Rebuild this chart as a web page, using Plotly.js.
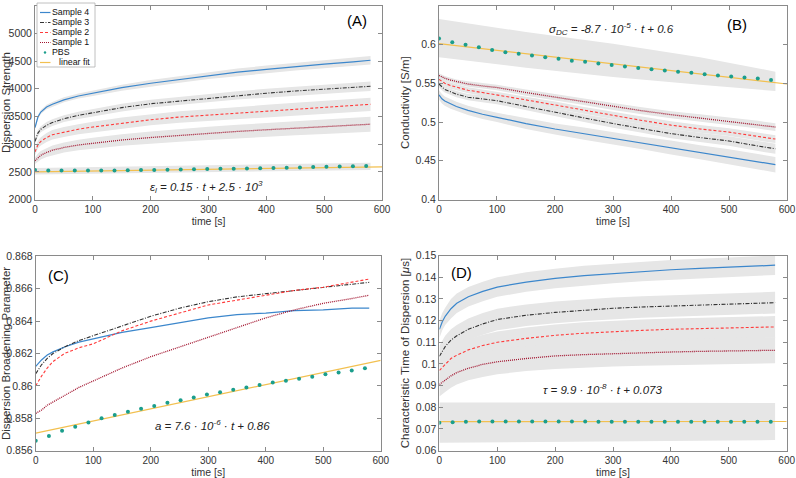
<!DOCTYPE html>
<html>
<head>
<meta charset="utf-8">
<script src="https://cdn.plot.ly/plotly-3.0.1.min.js"></script>
<style>html,body{margin:0;padding:0;background:#fff;}#chart{width:796px;height:478px;}</style>
</head>
<body>
<div id="chart"></div>
<script>
// ---------- data ----------
const t = [0,5,10,20,30,50,75,100,150,200,250,300,350,400,450,500,550,580];
const tPBS = [0,22.9,45.8,68.7,91.6,114.5,137.4,160.3,183.2,206.1,229,251.9,274.8,297.7,320.6,343.5,366.4,389.3,412.2,435.1,458,480.9,503.8,526.7,549.6,572.5];
const tFit = [0, 600];
const tBandPBS = [0,150,300,450,580];

// (A) Dispersion Strength
const A_s4 = [3300,3490,3580,3670,3720,3800,3870,3920,4020,4100,4170,4240,4300,4350,4400,4445,4485,4515];
const A_s3 = [3050,3200,3270,3340,3390,3460,3520,3570,3660,3730,3780,3830,3880,3920,3960,3990,4025,4045];
const A_s2 = [2860,2990,3050,3120,3170,3220,3270,3310,3380,3440,3490,3525,3565,3600,3635,3665,3700,3720];
const A_s1 = [2700,2760,2800,2850,2890,2940,2985,3015,3075,3120,3160,3195,3230,3260,3290,3315,3340,3360];
const A_hw4 = [30,35,35,40,40,45,45,50,55,60,60,65,65,70,70,75,75,75];
const A_hw3 = [50,55,55,60,60,60,65,65,70,70,75,75,75,80,80,80,85,85];
const A_hw2 = [60,70,75,80,85,90,90,95,100,100,105,105,110,110,115,115,120,120];
const A_hw1 = [60,70,75,80,85,90,95,100,105,110,115,120,120,125,130,130,135,135];
const A_pbs = [2532,2522,2522,2522,2524,2524,2526,2530,2532,2534,2538,2542,2546,2550,2554,2558,2562,2566,2570,2576,2580,2586,2590,2596,2600,2606];
const A_fit = [2500, 2590];
const A_pbsLo = [2450,2475,2495,2515,2535];
const A_pbsHi = [2570,2595,2620,2645,2665];

// (B) Conductivity
const B_s4 = [0.535,0.530,0.527,0.523,0.520,0.515,0.510,0.506,0.498,0.491,0.485,0.479,0.473,0.467,0.461,0.455,0.449,0.445];
const B_s3 = [0.549,0.545,0.542,0.539,0.536,0.532,0.530,0.5275,0.520,0.5125,0.505,0.498,0.4915,0.485,0.480,0.4755,0.469,0.4655];
const B_s2 = [0.555,0.552,0.550,0.547,0.545,0.541,0.538,0.535,0.5285,0.522,0.515,0.5085,0.502,0.496,0.491,0.487,0.481,0.478];
const B_s1 = [0.560,0.558,0.5565,0.554,0.552,0.549,0.5465,0.5445,0.538,0.532,0.526,0.520,0.5145,0.5095,0.505,0.501,0.4965,0.4935];
const B_hw4 = [0.006,0.006,0.006,0.006,0.006,0.006,0.006,0.006,0.007,0.007,0.008,0.008,0.008,0.009,0.009,0.010,0.010,0.010];
const B_hw3 = [0.004,0.004,0.004,0.004,0.004,0.004,0.0045,0.0045,0.005,0.005,0.005,0.0055,0.0055,0.006,0.006,0.006,0.0065,0.0065];
const B_hw2 = [0.004,0.004,0.004,0.004,0.004,0.004,0.004,0.004,0.0045,0.0045,0.0045,0.0045,0.005,0.005,0.005,0.005,0.005,0.005];
const B_hw1 = [0.003,0.003,0.003,0.003,0.003,0.0035,0.0035,0.0035,0.004,0.004,0.004,0.0045,0.0045,0.0045,0.005,0.005,0.005,0.005];
const B_pbs = [0.6078,0.603,0.5996,0.5966,0.593,0.590,0.588,0.5858,0.5836,0.5815,0.579,0.5776,0.5754,0.5737,0.5716,0.5698,0.568,0.5664,0.5647,0.5634,0.5616,0.560,0.5586,0.5573,0.556,0.5543];
const B_fit = [0.601, 0.549];
const B_pbsLo = [0.5835,0.570,0.558,0.548,0.540];
const B_pbsHi = [0.633,0.616,0.601,0.5835,0.565];

// (C) Dispersion Broadening Parameter
const C_s4 = [0.8612,0.8614,0.8616,0.8619,0.8621,0.8624,0.8627,0.8629,0.8633,0.8636,0.8639,0.8642,0.8644,0.8645,0.86465,0.8647,0.8648,0.8648];
const C_s3 = [0.86075,0.8610,0.8613,0.8617,0.8620,0.8624,0.8628,0.8631,0.8637,0.8643,0.8648,0.8652,0.8655,0.8657,0.8659,0.8661,0.8663,0.8664];
const C_s2 = [0.8600,0.8603,0.8606,0.8611,0.8615,0.8620,0.86235,0.8626,0.8634,0.8640,0.8645,0.8650,0.8653,0.8656,0.8659,0.8661,0.8664,0.8666];
const C_s1 = [0.8583,0.8584,0.8585,0.8588,0.8590,0.8594,0.8599,0.8603,0.8611,0.8618,0.8624,0.8630,0.8636,0.8642,0.8647,0.8651,0.8654,0.8656];
const C_pbs = [0.85661,0.8569,0.85723,0.85747,0.85774,0.85799,0.85819,0.8584,0.85858,0.85876,0.85895,0.85911,0.85928,0.85946,0.8596,0.85975,0.85989,0.86005,0.8602,0.86032,0.86044,0.86056,0.86071,0.86083,0.86095,0.86108];
const C_fit = [0.85708, 0.86157];

// (D) Characteristic Time of Dispersion
const D_s4 = [0.116,0.1195,0.122,0.1255,0.128,0.131,0.1335,0.1355,0.1378,0.1395,0.1408,0.1418,0.1427,0.1435,0.1441,0.1447,0.1452,0.1456];
const D_s3 = [0.1035,0.106,0.108,0.111,0.113,0.116,0.1185,0.1205,0.1225,0.1238,0.1248,0.1257,0.1263,0.1268,0.1273,0.1277,0.1281,0.1283];
const D_s2 = [0.097,0.0985,0.100,0.1025,0.104,0.1065,0.1085,0.110,0.1118,0.1132,0.1142,0.115,0.1155,0.116,0.1163,0.1166,0.1169,0.1171];
const D_s1 = [0.0905,0.0915,0.0925,0.0945,0.096,0.098,0.0998,0.101,0.1025,0.1037,0.1043,0.1048,0.1052,0.1055,0.1058,0.106,0.1062,0.1063];
const D_hw4 = [0.004,0.004,0.004,0.0045,0.0045,0.0045,0.0045,0.0045,0.0045,0.0045,0.0045,0.0045,0.0045,0.0045,0.0045,0.0045,0.0045,0.0045];
const D_hw3 = [0.005,0.005,0.005,0.005,0.005,0.005,0.005,0.005,0.005,0.005,0.005,0.005,0.005,0.005,0.005,0.005,0.005,0.005];
const D_hw2 = [0.005,0.005,0.005,0.005,0.005,0.005,0.005,0.005,0.005,0.005,0.005,0.005,0.005,0.005,0.005,0.005,0.005,0.005];
const D_hw1 = [0.0055,0.0055,0.0055,0.0055,0.0055,0.0055,0.0058,0.0058,0.0058,0.006,0.006,0.006,0.006,0.006,0.006,0.006,0.006,0.006];
const D_pbs = [0.0728,0.0731,0.0733,0.0734,0.0734,0.0734,0.0734,0.0734,0.0734,0.0734,0.0734,0.0734,0.0733,0.0733,0.0733,0.0733,0.0733,0.0733,0.0733,0.0733,0.0733,0.0733,0.0733,0.0733,0.0733,0.0733];
const D_fit = [0.0733, 0.0734];
const D_pbsLo = [0.0636,0.0639,0.0642,0.0645,0.0648];
const D_pbsHi = [0.0822,0.0822,0.0821,0.0821,0.0820];

const legendNames = ['Sample 4','Sample 3','Sample 2','Sample 1','PBS','linear fit'];

// ---------- styles ----------
const BAND = '#e6e6e6';
const sty = {
  s4: {color:'#3c87cc', dash:'solid', width:1.2},
  s3: {color:'#333333', dash:'4px,1.5px,1px,1.5px', width:1.1},
  s2: {color:'#ff3b3b', dash:'3px,2px', width:1.1},
  s1: {color:'#a2142f', dash:'1px,1px', width:1.3},
  fit:{color:'#f2c050', dash:'solid', width:1.2}
};
const MK = '#1b9e8c';

const traces = [];
function band(x, lo, hi, ax) {
  traces.push({x: x.concat(x.slice().reverse()), y: hi.concat(lo.slice().reverse()),
    type:'scatter', mode:'lines', fill:'toself', fillcolor:BAND, line:{width:0},
    xaxis:'x'+ax, yaxis:'y'+ax, hoverinfo:'skip', showlegend:false});
}
function bandHW(x, y, hw, ax) {
  band(x, y.map((v,i)=>v-hw[i]), y.map((v,i)=>v+hw[i]), ax);
}
function line(x, y, s, ax) {
  traces.push({x:x, y:y, type:'scatter', mode:'lines', line:s, xaxis:'x'+ax, yaxis:'y'+ax, showlegend:false});
}
function marks(x, y, ax) {
  traces.push({x:x, y:y, type:'scatter', mode:'markers', marker:{color:MK, size:4}, xaxis:'x'+ax, yaxis:'y'+ax, showlegend:false});
}

// A
bandHW(t, A_s4, A_hw4, ''); bandHW(t, A_s3, A_hw3, ''); bandHW(t, A_s2, A_hw2, ''); bandHW(t, A_s1, A_hw1, '');
band(tBandPBS, A_pbsLo, A_pbsHi, '');
line(tFit, A_fit, sty.fit, '');
line(t, A_s4, sty.s4, ''); line(t, A_s3, sty.s3, ''); line(t, A_s2, sty.s2, ''); line(t, A_s1, sty.s1, '');
marks(tPBS, A_pbs, '');
// B
bandHW(t, B_s4, B_hw4, '2'); bandHW(t, B_s3, B_hw3, '2'); bandHW(t, B_s2, B_hw2, '2'); bandHW(t, B_s1, B_hw1, '2');
band(tBandPBS, B_pbsLo, B_pbsHi, '2');
line(tFit, B_fit, sty.fit, '2');
line(t, B_s4, sty.s4, '2'); line(t, B_s3, sty.s3, '2'); line(t, B_s2, sty.s2, '2'); line(t, B_s1, sty.s1, '2');
marks(tPBS, B_pbs, '2');
// C
line(tFit, C_fit, sty.fit, '3');
line(t, C_s4, sty.s4, '3'); line(t, C_s3, sty.s3, '3'); line(t, C_s2, sty.s2, '3'); line(t, C_s1, sty.s1, '3');
marks(tPBS, C_pbs, '3');
// D
bandHW(t, D_s4, D_hw4, '4'); bandHW(t, D_s3, D_hw3, '4'); bandHW(t, D_s2, D_hw2, '4'); bandHW(t, D_s1, D_hw1, '4');
band(tBandPBS, D_pbsLo, D_pbsHi, '4');
line(tFit, D_fit, sty.fit, '4');
line(t, D_s4, sty.s4, '4'); line(t, D_s3, sty.s3, '4'); line(t, D_s2, sty.s2, '4'); line(t, D_s1, sty.s1, '4');
marks(tPBS, D_pbs, '4');

// ---------- layout ----------
const FONT = '"Liberation Sans", Arial, Helvetica, sans-serif';
function xax(dom, anchor) {
  return {domain:dom, anchor:anchor, range:[0,600], tick0:0, dtick:100, ticks:'inside', ticklen:4,
    tickcolor:'#8a8a8a', showline:true, linecolor:'#8a8a8a', linewidth:1, mirror:'ticks',
    showgrid:false, zeroline:false, tickfont:{size:10, color:'#333'},
    title:{text:'time [s]', font:{size:10.5, color:'#333'}, standoff:2}};
}
function yax(dom, anchor, range, dtick, title) {
  return {domain:dom, anchor:anchor, range:range, tick0:range[0], dtick:dtick, ticks:'inside', ticklen:4,
    tickcolor:'#8a8a8a', showline:true, linecolor:'#8a8a8a', linewidth:1, mirror:'ticks',
    showgrid:false, zeroline:false, tickfont:{size:10.5, color:'#333'},
    title:{text:title, font:{size:11.5, color:'#333'}, standoff:3}};
}
const W = 796, H = 478;
const px = v => v / W, py = v => 1 - v / H;

const shapes = [];
const annotations = [];
// manual legend for panel A
shapes.push({type:'rect', xref:'paper', yref:'paper', x0:px(37), x1:px(95), y0:py(67), y1:py(3),
  line:{color:'#b0b0b0', width:0.8}, fillcolor:'#ffffff', layer:'above'});
const rowsY = [12.5, 22.5, 32.5, 42.5, 52.5, 62.5];
const legStyles = [sty.s4, sty.s3, sty.s2, sty.s1, null, sty.fit];
legendNames.forEach((nm, i) => {
  const s = legStyles[i];
  if (s) {
    shapes.push({type:'line', xref:'paper', yref:'paper', x0:px(40), x1:px(50.5), y0:py(rowsY[i]), y1:py(rowsY[i]),
      line:{color:s.color, dash:s.dash, width:1.2}, layer:'above'});
  } else {
    shapes.push({type:'circle', xref:'paper', yref:'paper', x0:px(43.8), x1:px(46.2), y0:py(rowsY[i]+1.2), y1:py(rowsY[i]-1.2),
      line:{width:0}, fillcolor:MK, layer:'above'});
  }
  annotations.push({xref:'paper', yref:'paper', x:px(i === 5 ? 57.5 : 51), y:py(rowsY[i]), text:nm, showarrow:false,
    xanchor:'left', yanchor:'middle', borderpad:0, font:{size:8.8, color:'#111', family:FONT}});
});

// panel labels
annotations.push({xref:'x', yref:'y', x:557, y:5240, text:'(A)', showarrow:false, font:{size:15, color:'#000'}});
annotations.push({xref:'x2', yref:'y2', x:514, y:0.6254, text:'(B)', showarrow:false, font:{size:15, color:'#000'}});
annotations.push({xref:'x3', yref:'y3', x:39, y:0.8668, text:'(C)', showarrow:false, font:{size:15, color:'#000'}});
annotations.push({xref:'x4', yref:'y4', x:37.5, y:0.1424, text:'(D)', showarrow:false, font:{size:15, color:'#000'}});
// equations
annotations.push({xref:'x', yref:'y', x:297, y:2235, text:'<i>ε<sub>l</sub> = 0.15 · t + 2.5 · 10<sup>3</sup></i>', showarrow:false, font:{size:11.5, color:'#222'}});
annotations.push({xref:'x2', yref:'y2', x:298, y:0.620, text:'<i>σ<sub>DC</sub> = -8.7 · 10<sup>-5</sup> · t + 0.6</i>', showarrow:false, font:{size:11.5, color:'#222'}});
annotations.push({xref:'x3', yref:'y3', x:308, y:0.8576, text:'<i>a = 7.6 · 10<sup>-6</sup> · t + 0.86</i>', showarrow:false, font:{size:11.5, color:'#222'}});
annotations.push({xref:'x4', yref:'y4', x:281, y:0.0886, text:'<i>τ = 9.9 · 10<sup>-8</sup> · t + 0.073</i>', showarrow:false, font:{size:11.5, color:'#222'}});

const layout = {
  width:W, height:H, margin:{l:0, r:0, t:0, b:0}, paper_bgcolor:'#fff', plot_bgcolor:'#fff',
  font:{family:FONT, color:'#333'}, showlegend:false,
  xaxis: xax([0.044, 0.480], 'y'),
  yaxis: yax([0.5826, 0.988], 'x', [2000, 5500], 500, 'Dispersion Strength'),
  xaxis2: xax([0.5515, 0.9887], 'y2'),
  yaxis2: yax([0.5826, 0.988], 'x2', [0.4, 0.65], 0.05, 'Conductivity [S/m]'),
  xaxis3: xax([0.0449, 0.4783], 'y3'),
  yaxis3: yax([0.0575, 0.4635], 'x3', [0.856, 0.868], 0.002, 'Dispersion Broadening Parameter'),
  xaxis4: xax([0.552, 0.9883], 'y4'),
  yaxis4: yax([0.0575, 0.4651], 'x4', [0.06, 0.15], 0.01, 'Characteristic Time of Dispersion [<i>μ</i>s]'),
  shapes:shapes, annotations:annotations
};
Plotly.newPlot('chart', traces, layout, {staticPlot:true, displayModeBar:false});
</script>
</body>
</html>
